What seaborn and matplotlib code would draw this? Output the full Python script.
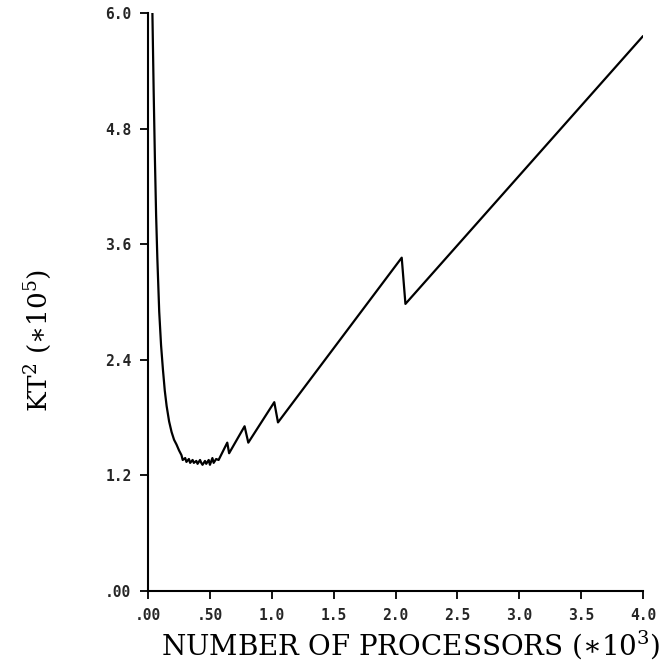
import seaborn as sns
import matplotlib.pyplot as plt
import pandas as pd

# processors (*10^3) and KT^2 (*10^5)
procs = [0.035, 0.045, 0.055, 0.065, 0.075, 0.09, 0.105, 0.12, 0.135, 0.15, 0.17, 0.19,
         0.21, 0.23, 0.25, 0.27,
         0.28, 0.30, 0.31, 0.33, 0.34, 0.36, 0.37, 0.39, 0.40, 0.42, 0.43, 0.44, 0.46,
         0.47, 0.49, 0.50, 0.52, 0.53, 0.55, 0.57,
         0.64, 0.655, 0.78, 0.81, 1.02, 1.05, 2.05, 2.08, 4.0]
kt2 = [6.0, 5.2, 4.5, 3.9, 3.45, 2.9, 2.55, 2.3, 2.08, 1.92, 1.76, 1.65,
       1.57, 1.52, 1.46, 1.41,
       1.36, 1.38, 1.34, 1.37, 1.33, 1.36, 1.33, 1.35, 1.32, 1.36, 1.33, 1.31, 1.35,
       1.32, 1.36, 1.31, 1.38, 1.33, 1.37, 1.36,
       1.54, 1.43, 1.71, 1.54, 1.96, 1.75, 3.46, 2.98, 5.76]

xticks = [0.0, 0.5, 1.0, 1.5, 2.0, 2.5, 3.0, 3.5, 4.0]
xticklabels = ['.00', '.50', '1.0', '1.5', '2.0', '2.5', '3.0', '3.5', '4.0']
yticks = [0.0, 1.2, 2.4, 3.6, 4.8, 6.0]
yticklabels = ['.00', '1.2', '2.4', '3.6', '4.8', '6.0']

df = pd.DataFrame({'procs': procs, 'kt2': kt2})

sns.set_style('ticks')
plt.rcParams['mathtext.fontset'] = 'dejavuserif'
fig = plt.figure(figsize=(6.67, 6.69), dpi=100)
ax = fig.add_axes([0.222, 0.1166, 0.742, 0.864])
sns.lineplot(x='procs', y='kt2', data=df, sort=False, estimator=None,
             color='black', linewidth=1.6, ax=ax)

ax.set_xlim(0, 4.0)
ax.set_ylim(0, 6.0)
ax.set_xticks(xticks)
ax.set_xticklabels(xticklabels)
ax.set_yticks(yticks)
ax.set_yticklabels(yticklabels)
for lab in ax.get_xticklabels() + ax.get_yticklabels():
    lab.set_family('DejaVu Sans Mono')
    lab.set_fontweight('bold')
    lab.set_fontsize(10.5)
ax.tick_params(direction='out', length=6, width=1.3, color='black', pad=6)
for s in ['left', 'bottom']:
    ax.spines[s].set_linewidth(1.5)
    ax.spines[s].set_color('black')
sns.despine(ax=ax)

ax.set_xlabel(r'NUMBER OF PROCESSORS ($\ast10^3$)', family='DejaVu Serif',
              fontsize=20, color='black')
ax.set_ylabel(r'KT$^2$ ($\ast10^5$)', family='DejaVu Serif', fontsize=19, color='black')
ax.xaxis.set_label_coords(0.53, -0.064)
ax.yaxis.set_label_coords(-0.19, 0.434)

plt.savefig('out.png', dpi=100)
